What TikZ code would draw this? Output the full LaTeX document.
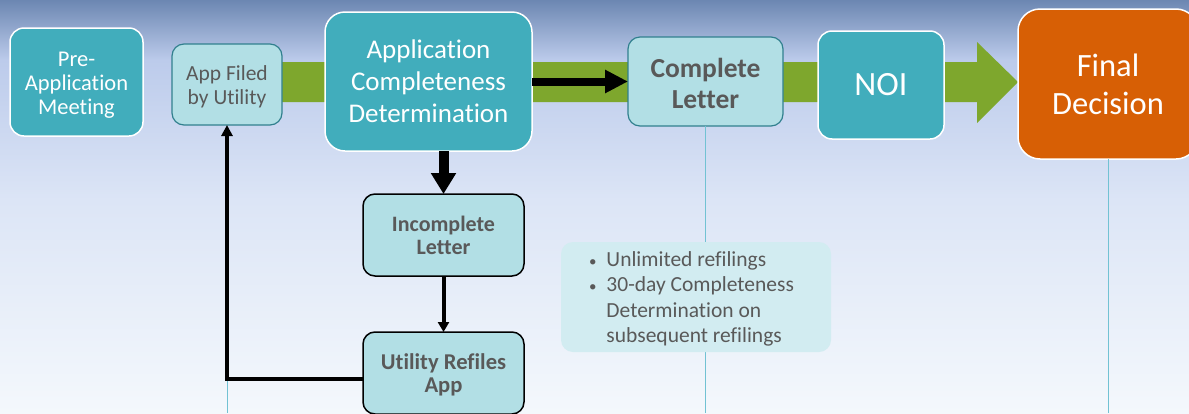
\documentclass[tikz,border=0pt]{standalone}
\usepackage{fontspec}
\setmainfont{Carlito}[Ligatures=NoCommon]
\usetikzlibrary{arrows.meta}
\definecolor{tealA}{HTML}{41ADBC}
\definecolor{lightA}{HTML}{B2DFE5}
\definecolor{lightB}{HTML}{31808E}
\definecolor{orangeA}{HTML}{D75F05}
\definecolor{greenA}{HTML}{7EA72D}
\definecolor{grayT}{HTML}{595959}
\definecolor{noteF}{HTML}{D2ECF1}
\definecolor{tline}{HTML}{72C2D3}
\definecolor{bg1}{HTML}{6C87B2}
\definecolor{bg2}{HTML}{BCCBEB}
\definecolor{bg3}{HTML}{DCE5F6}
\definecolor{bg4}{HTML}{F4F8FC}
\begin{document}
\begin{tikzpicture}[x=1pt,y=-1pt,
  box/.style={inner sep=0pt,outer sep=0pt,align=center},
  darkbox/.style={box,fill=tealA,draw=white,line width=1.5pt,rounded corners=14pt,text=white},
  lightbox/.style={box,fill=lightA,draw=lightB,line width=1.2pt,rounded corners=12pt,text=grayT},
  blackbox/.style={box,fill=lightA,draw=black,line width=1.5pt,rounded corners=12pt,text=grayT},
  thinline/.style={draw=tline,line width=1pt},
  fs/.style 2 args={font=\fontsize{#1}{#2}\selectfont},
  fsb/.style 2 args={font=\fontsize{#1}{#2}\selectfont\bfseries}]
\useasboundingbox (0,0) rectangle (1189,413);
\begin{scope}
\clip (0,0) rectangle (1189,413);
\shade[top color=bg1,bottom color=bg2] (0,0) rectangle (1189,60);
\shade[top color=bg2,bottom color=bg3] (0,60) rectangle (1189,200);
\shade[top color=bg3,bottom color=bg4] (0,200) rectangle (1189,413);
% green band arrow
\fill[greenA] (282,62) -- (977,62) -- (977,42) -- (1018,82) -- (977,123) -- (977,102) -- (282,102) -- cycle;
% nodes
\node[darkbox,fs={22.5}{24},minimum width=133pt,minimum height=108pt] (pre) at (76.5,82) {\rule{0pt}{21.5pt}Pre-\\Application\\Meeting};
\node[lightbox,fs={21.5}{24},minimum width=110pt,minimum height=81pt] (filed) at (227,84.5) {\rule{0pt}{19pt}App Filed\\by Utility};
\node[darkbox,fs={27}{32},minimum width=207pt,minimum height=139pt,rounded corners=20pt] (acd) at (428.5,81.5) {Application\\Completeness\\Determination};
\node[lightbox,fsb={27.5}{31},minimum width=155pt,minimum height=89pt] (complete) at (705.5,81.5) {\rule{0pt}{24pt}Complete\\Letter};
\node[darkbox,fs={34}{36},minimum width=126pt,minimum height=108pt] (noi) at (881,85) {NOI};
\node[darkbox,fill=orangeA,fs={32.5}{38},minimum width=180pt,minimum height=150pt,rounded corners=22pt] (final) at (1108,84) {Final\\Decision};
\node[blackbox,fsb={22}{23},minimum width=161pt,minimum height=82pt] (incomplete) at (443.5,235) {Incomplete\\Letter};
\node[blackbox,fsb={22.6}{23},minimum width=161pt,minimum height=82pt] (refile) at (443.5,373) {\rule{0pt}{20pt}Utility Refiles\\App};
% thin timeline lines
\draw[thinline] (filed.south |- 0,379) -- (filed.south |- 0,413);
\draw[thinline] (complete.south) -- (complete.south |- 0,413);
\draw[thinline] (final.south) -- (final.south |- 0,413);
% notes
\node[box,fill=noteF,rounded corners=12pt,minimum width=270pt,minimum height=110pt] (notes) at (696,297) {};
\node[box,anchor=west,text=grayT,fs={21.5}{25.3}] (notestext) at (589,299.5)
  {\begin{tabular}{@{}l@{\hspace{10pt}}l@{}}
  {\fontsize{15}{15}\selectfont •} & Unlimited refilings\\
  {\fontsize{15}{15}\selectfont •} & 30-day Completeness\\
    & Determination on\\
    & subsequent refilings
  \end{tabular}};
% connectors
\draw[line width=8pt,-{Triangle[length=23pt,width=22pt]}] (acd.east) -- (complete.west);
\draw[line width=10pt,-{Triangle[length=21pt,width=24pt]}] (acd.south -| incomplete.north) -- (incomplete.north);
\draw[line width=4pt,-{Triangle[length=10pt,width=11pt]}] (incomplete.south) -- (refile.north);
\draw[line width=4pt,-{Triangle[length=11pt,width=11pt]}] ([yshift=-6pt]refile.west) -| (filed.south);
\end{scope}
\end{tikzpicture}
\end{document}
